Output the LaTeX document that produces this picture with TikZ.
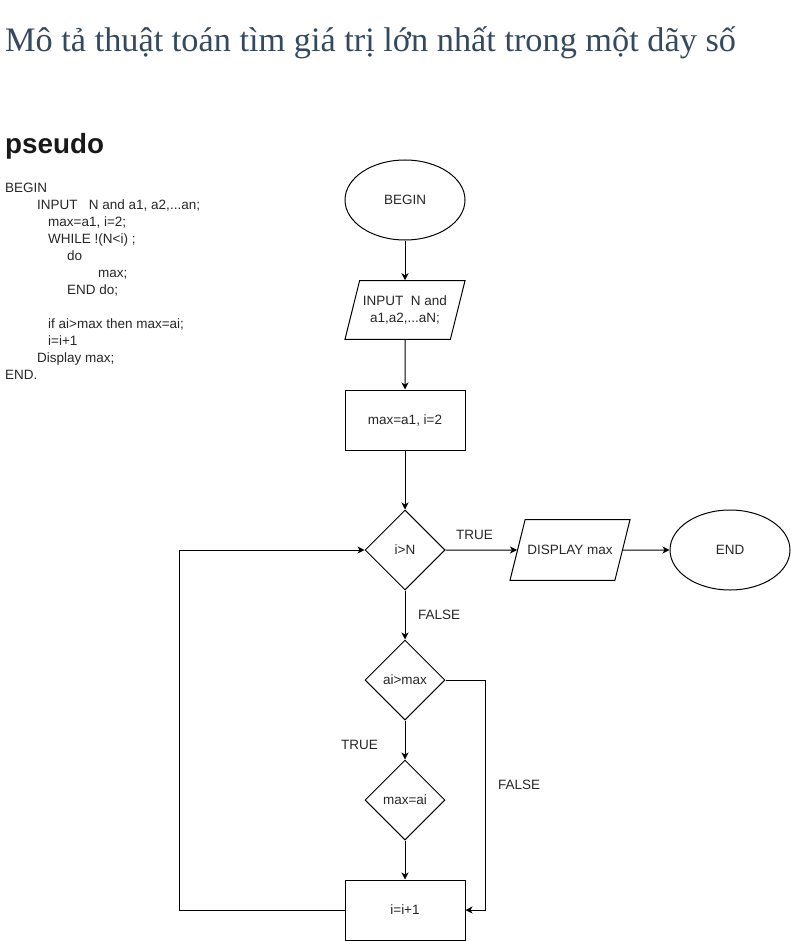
\documentclass[tikz,border=0pt]{standalone}
\usepackage{fontspec}
\setmainfont{Liberation Serif}
\setsansfont{Liberation Sans}
\usetikzlibrary{shapes}
\usetikzlibrary{arrows.meta}
\definecolor{titlegrey}{RGB}{52,73,94}

\begin{document}
\begin{tikzpicture}[x=1pt,y=-1pt]
			\tikzstyle{every node}=[font=\sffamily\fontsize{13.5}{17}\selectfont,text=black!85]
			\tikzstyle{flow}=[draw=black,line width=1pt,minimum width=120pt,minimum height=60pt,align=center,inner sep=2pt]
			\tikzstyle{term}=[flow,ellipse,minimum height=80pt]
			\tikzstyle{io}=[flow,trapezium,trapezium left angle=76,trapezium right angle=104,trapezium stretches body=true,minimum height=0pt]
			\tikzstyle{proc}=[flow,rectangle]
			\tikzstyle{test}=[flow,diamond,minimum width=80pt,minimum height=80pt]
			\tikzstyle{line}=[draw,line width=1pt,-{Stealth[length=7pt,width=7pt,inset=2pt]}]
			\tikzstyle{note}=[anchor=west,inner sep=0pt]

			\useasboundingbox (0,0) rectangle (791,941);

			\node[anchor=base west,inner sep=0pt,font=\rmfamily\fontsize{34.3}{40}\selectfont,text=titlegrey] (title) at (5,52) {Mô tả thuật toán tìm giá trị lớn nhất trong một dãy số};
			\node[anchor=base west,inner sep=0pt,font=\sffamily\bfseries\fontsize{27.8}{32}\selectfont,text=black!90] (pseudo) at (5,154) {pseudo};
			\node[anchor=north west,align=left,inner sep=0pt] (code) at (5,183) {BEGIN\\
				\hspace*{32pt}INPUT\ \ \ N and a1, a2,...an;\\
				\hspace*{43pt}max=a1, i=2;\\
				\hspace*{43pt}WHILE !(N<i) ;\\
				\hspace*{62pt}do\\
				\hspace*{93pt}max;\\
				\hspace*{62pt}END do;\\
				\mbox{}\\
				\hspace*{43pt}if ai>max then max=ai;\\
				\hspace*{43pt}i=i+1\\
				\hspace*{32pt}Display max;\\
				END.};

			\node[term] (begin) at (405,200) {BEGIN};
			\node[io,inner ysep=15pt] (input) at (405,310) {INPUT\ \ N and\\a1,a2,...aN;};
			\node[proc] (init) at (405,420) {max=a1, i=2};
			\node[test] (cmpn) at (405,550) {i>N};
			\node[io,inner ysep=25.5pt] (show) at (570,550) {DISPLAY max};
			\node[term] (end) at (730,550) {END};
			\node[test] (cmpmax) at (405,680) {ai>max};
			\node[test] (setmax) at (405,800) {max=ai};
			\node[proc] (incr) at (405,910) {i=i+1};

			\path[line] (begin) -- (input);
			\path[line] (input) -- (init);
			\path[line] (init) -- (cmpn);
			\path[line] (cmpn) -- (show);
			\path[line] (show) -- (end);
			\path[line] (cmpn) -- (cmpmax);
			\path[line] (cmpmax) -- (setmax);
			\path[line] (setmax) -- (incr);
			\path[line] (incr.west) -- ++(-165,0) |- (cmpn.west);
			\path[line] (cmpmax.east) -- ++(40,0) |- (incr.east);

			\node[note] (true1) at (456,535) {TRUE};
			\node[note] (false1) at (418,615) {FALSE};
			\node[note] (true2) at (341,745) {TRUE};
			\node[note] (false2) at (498,785) {FALSE};
\end{tikzpicture}
\end{document}
